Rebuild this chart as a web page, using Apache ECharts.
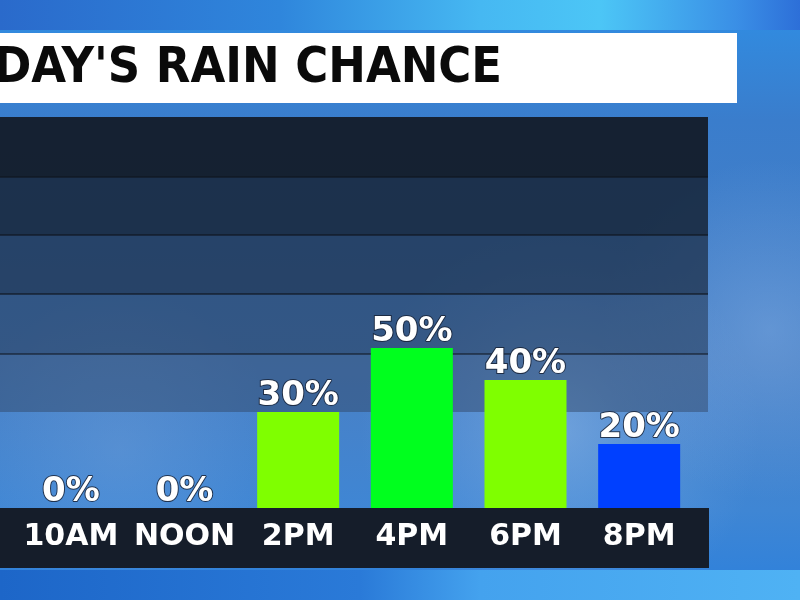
<!DOCTYPE html>
<html>
<head>
<meta charset="utf-8">
<script src="https://cdn.jsdelivr.net/npm/echarts@6/dist/echarts.min.js"></script>
<style>
html,body{margin:0;padding:0;background:#2f7fd6;}
#chart{width:800px;height:600px;}
</style>
</head>
<body>
<div id="chart"></div>
<script>
// ---- data ----
const titleText = "DAY'S RAIN CHANCE";
const categories = ['10AM', 'NOON', '2PM', '4PM', '6PM', '8PM'];
const rainChance = [0, 0, 30, 50, 40, 20];
const barColors = ['#7fff00', '#7fff00', '#7fff00', '#00ff1e', '#7fff00', '#0040ff'];

const chart = echarts.init(document.getElementById('chart'), null, {renderer: 'canvas'});

const bgGradient = new echarts.graphic.LinearGradient(0, 0, 0, 1, [
  {offset: 0, color: '#2f8ee4'},
  {offset: 0.2, color: '#3a7dcc'},
  {offset: 0.6, color: '#4a80c4'},
  {offset: 0.85, color: '#3f86d4'},
  {offset: 1, color: '#2c80dc'}
]);

function radial(cx, cy, r, color) {
  return {
    type: 'circle', z: -90, silent: true,
    shape: {cx: cx, cy: cy, r: r},
    style: {fill: new echarts.graphic.RadialGradient(0.5, 0.5, 0.5, [
      {offset: 0, color: color},
      {offset: 1, color: 'rgba(120,170,230,0)'}
    ])}
  };
}

const option = {
  backgroundColor: bgGradient,
  animation: false,
  grid: {left: 14, width: 682, top: 188, bottom: 92},
  xAxis: {
    type: 'category',
    data: categories,
    z: 5,
    axisLine: {show: false},
    axisTick: {show: false},
    axisLabel: {
      color: '#ffffff',
      fontFamily: 'DejaVu Sans',
      fontWeight: 'bold',
      fontSize: 30,
      margin: 14,
      interval: 0
    }
  },
  yAxis: {
    type: 'value', min: 0, max: 100, show: false,
    splitLine: {show: false}
  },
  series: [{
    type: 'bar',
    z: 3,
    barWidth: 82,
    data: rainChance.map((v, i) => ({value: v, itemStyle: {color: barColors[i]}})),
    label: {
      show: true,
      position: 'top',
      distance: -1,
      formatter: '{c}%',
      color: '#ffffff',
      fontFamily: 'DejaVu Sans',
      fontWeight: 'bold',
      fontSize: 34,
      textBorderColor: 'rgba(25,35,55,0.85)',
      textBorderWidth: 2
    }
  }],
  graphic: {
    elements: [
      // sky highlights
      {type: 'rect', z: -95, silent: true, shape: {x: 0, y: 0, width: 800, height: 30},
        style: {fill: new echarts.graphic.LinearGradient(0, 0, 1, 0, [
          {offset: 0, color: '#2a6acb'}, {offset: 0.35, color: '#2f86dc'},
          {offset: 0.6, color: '#46b8f2'}, {offset: 0.75, color: '#4cc6f6'}, {offset: 0.92, color: '#3a8fe6'}, {offset: 1, color: '#2d6fd8'}])}},
      radial(560, 430, 200, 'rgba(150,190,235,0.5)'),
      radial(770, 330, 170, 'rgba(130,175,230,0.45)'),
      radial(120, 450, 160, 'rgba(120,165,220,0.35)'),
      {type: 'rect', z: -85, silent: true, shape: {x: 0, y: 570, width: 800, height: 30},
        style: {fill: new echarts.graphic.LinearGradient(0, 0, 1, 0, [
          {offset: 0, color: '#1d66c8'}, {offset: 0.45, color: '#2a7ad8'},
          {offset: 0.6, color: '#44a2ee'}, {offset: 1, color: '#4fb2f4'}])}},
      // title box
      {type: 'rect', z: -50, silent: true, shape: {x: 0, y: 33, width: 737, height: 70},
        style: {fill: '#ffffff'}},
      {type: 'text', z: -49, silent: true, x: -6, y: 69,
        style: {text: titleText, fill: '#0a0a0a', fontFamily: 'DejaVu Sans Condensed', fontWeight: 'bold',
          fontSize: 50, verticalAlign: 'middle', align: 'left'}},
      // bands
      {type: 'rect', z: -60, silent: true, shape: {x: 0, y: 117, width: 708, height: 60}, style: {fill: 'rgba(18,26,38,0.93)'}},
      {type: 'rect', z: -60, silent: true, shape: {x: 0, y: 177, width: 708, height: 58}, style: {fill: 'rgba(22,34,52,0.84)'}},
      {type: 'rect', z: -60, silent: true, shape: {x: 0, y: 235, width: 708, height: 59}, style: {fill: 'rgba(28,44,68,0.72)'}},
      {type: 'rect', z: -60, silent: true, shape: {x: 0, y: 294, width: 708, height: 60}, style: {fill: 'rgba(36,56,86,0.58)'}},
      {type: 'rect', z: -60, silent: true, shape: {x: 0, y: 354, width: 708, height: 58}, style: {fill: 'rgba(48,70,100,0.48)'}},
      {type: 'line', z: -59, silent: true, shape: {x1: 0, y1: 177, x2: 708, y2: 177}, style: {stroke: 'rgba(15,22,32,0.8)', lineWidth: 1.5}},
      {type: 'line', z: -59, silent: true, shape: {x1: 0, y1: 235, x2: 708, y2: 235}, style: {stroke: 'rgba(15,22,32,0.8)', lineWidth: 1.5}},
      {type: 'line', z: -59, silent: true, shape: {x1: 0, y1: 294, x2: 708, y2: 294}, style: {stroke: 'rgba(15,22,32,0.8)', lineWidth: 1.5}},
      {type: 'line', z: -59, silent: true, shape: {x1: 0, y1: 354, x2: 708, y2: 354}, style: {stroke: 'rgba(15,22,32,0.7)', lineWidth: 1.5}},
      // category strip
      {type: 'rect', z: -40, silent: true, shape: {x: 0, y: 508, width: 709, height: 60},
        style: {fill: '#151d2a'}}
    ]
  }
};
chart.setOption(option);
</script>
</body>
</html>
